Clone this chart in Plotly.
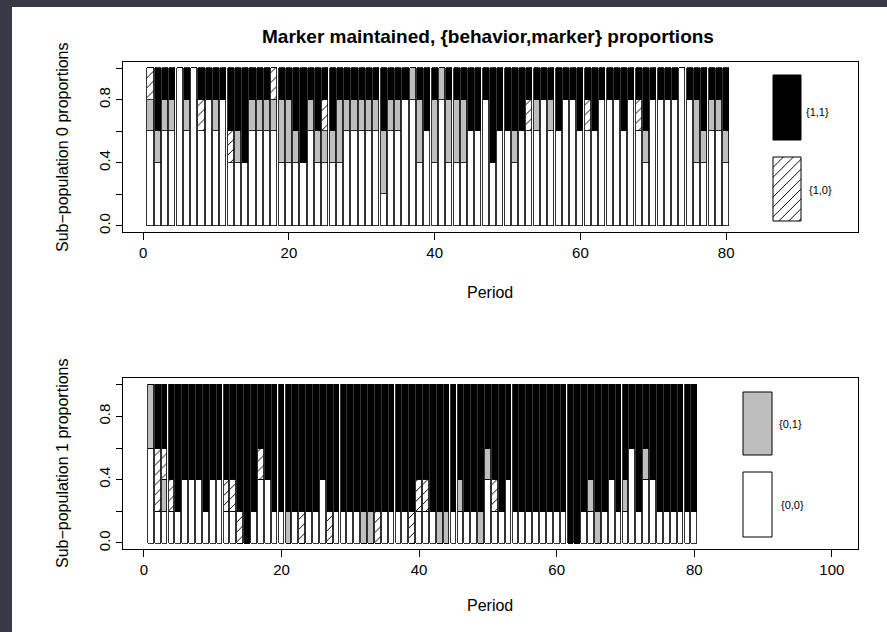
import plotly.graph_objects as go

W, H = 887, 632

periods = list(range(1, 81))

# Sub-population 0 : proportions of {0,0}, {0,1}, {1,0}, {1,1}
pop0_00 = [.6,.4,.6,.6,1,.6,1,.6,.8,.6, .8,.4,.4,.4,.6,.6,.6,.6,.4,.4,
           .4,.4,.6,.4,.4,.4,.4,.6,.6,.6, .6,.6,.2,.6,.6,.8,.8,.4,.6,.4,
           .8,.4,.4,.4,.6,.6,.8,.4,.6,.6, .4,.6,.6,.6,.8,.6,.6,.8,.8,.6,
           .6,.6,.8,.8,.8,.6,.8,.6,.4,.8, .8,.8,.8,1,.8,.4,.4,.6,.6,.4]
pop0_01 = [.2,.2,.2,.2,0,.2,0,0,0,.2, 0,0,.2,0,.2,.2,.2,.2,.4,.4,
           .2,0,.2,.2,.2,.2,.4,.2,.2,.2, .2,.2,.4,.2,.2,0,.2,.4,0,.4,
           .2,.4,.4,.4,0,0,0,0,0,0, .2,0,0,.2,0,.2,0,0,0,0,
           0,0,0,0,0,0,0,0,.2,0, 0,0,0,0,0,.4,.2,.2,.2,.2]
pop0_10 = [.2,0,0,0,0,0,0,.2,0,0, 0,.2,0,0,0,0,0,.2,0,0,
           0,0,0,0,.2,0,0,0,0,0, 0,0,0,0,0,0,0,0,0,0,
           0,0,0,0,0,0,0,0,0,0, 0,0,.2,0,0,0,0,0,0,0,
           .2,0,0,0,0,0,0,.2,0,0, 0,0,0,0,0,0,0,0,0,0]
pop0_11 = [0,.4,.2,.2,0,.2,0,.2,.2,.2, .2,.4,.4,.6,.2,.2,.2,0,.2,.2,
           .4,.6,.2,.4,.2,.4,.2,.2,.2,.2, .2,.2,.4,.2,.2,.2,0,.2,.4,.2,
           0,.2,.2,.2,.4,.4,.2,.6,.4,.4, .4,.4,.2,.2,.2,.2,.4,.2,.2,.4,
           .2,.4,.2,.2,.2,.4,.2,.2,.4,.2, .2,.2,.2,0,.2,.2,.4,.2,.2,.4]

# Sub-population 1
pop1_00 = [.6,.2,.2,.2,.2,.4,.4,.4,.2,.4, .4,.2,.2,0,0,.2,.4,.4,.2,.2,
           0,.2,0,.2,.2,.4,0,.2,.2,.2, .2,0,0,0,.2,.2,.2,.2,0,.2,
           .2,.2,0,0,.2,.2,.2,.2,0,.4, .2,.2,.4,.2,.2,.2,.2,.2,.2,.2,
           .2,0,0,.2,.2,0,.2,.4,.2,.2, .6,.2,.4,.4,.2,.2,.2,.2,.2,.2]
pop1_01 = [.4,0,.2,0,0,0,0,0,0,0, 0,0,0,0,0,0,0,0,0,0,
           .2,0,0,0,0,0,0,0,0,0, 0,.2,.2,0,0,0,0,0,0,0,
           0,0,.2,.2,0,.2,0,0,.2,.2, 0,0,0,0,0,0,0,0,0,0,
           0,0,0,0,.2,.2,0,0,0,.2, 0,0,.2,0,0,0,0,0,0,0]
pop1_10 = [0,.4,.2,.2,0,0,0,0,0,0, 0,.2,.2,.2,0,0,.2,0,0,0,
           0,0,.2,0,0,0,.2,0,0,0, 0,0,0,.2,0,0,0,0,.2,.2,
           .2,0,0,0,0,0,0,0,0,0, .2,0,0,0,0,0,0,0,0,0,
           0,0,0,0,0,0,0,0,0,0, 0,0,0,0,0,0,0,0,0,0]
pop1_11 = [0,.4,.4,.6,.8,.6,.6,.6,.8,.6, .6,.6,.6,.8,1,.8,.4,.6,.8,.8,
           .8,.8,.8,.8,.8,.6,.8,.8,.8,.8, .8,.8,.8,.8,.8,.8,.8,.8,.8,.6,
           .6,.8,.8,.8,.8,.6,.8,.8,.8,.4, .6,.8,.6,.8,.8,.8,.8,.8,.8,.8,
           .8,1,1,.8,.6,.8,.8,.6,.8,.6, .4,.8,.4,.6,.8,.8,.8,.8,.8,.8]

categories = ["{0,0}", "{0,1}", "{1,0}", "{1,1}"]
x_ticks_top = [0, 20, 40, 60, 80]
x_ticks_bottom = [0, 20, 40, 60, 80, 100]
y_ticks = [0.0, 0.2, 0.4, 0.6, 0.8, 1.0]
y_ticktext = ["0.0", "", "0.4", "", "0.8", ""]

GREY = "#bebebe"
DARK = "#383846"
hatch = dict(shape="/", fgcolor="black", bgcolor="white", size=7, solidity=0.14)
styles = {
    "{0,0}": dict(color="white"),
    "{0,1}": dict(color=GREY),
    "{1,0}": dict(color="white", pattern=hatch),
    "{1,1}": dict(color="black"),
}

fig = go.Figure()
panels = [("x", "y", [pop0_00, pop0_01, pop0_10, pop0_11]),
          ("x2", "y2", [pop1_00, pop1_01, pop1_10, pop1_11])]
for xa, ya, series in panels:
    for cat, vals in zip(categories, series):
        fig.add_trace(go.Bar(
            x=periods, y=vals, name=cat, width=0.833,
            marker=dict(**styles[cat], line=dict(color="black", width=0.8)),
            xaxis=xa, yaxis=ya, showlegend=False, hoverinfo="skip"))

# legend swatches, drawn in a pixel-coordinate overlay (x3/y3)
legend_boxes = [
    ("{1,1}", 773, 801, 75, 140, 804, 112),
    ("{1,0}", 773, 801, 157, 221, 807, 190),
    ("{0,1}", 743, 772, 392, 455, 777, 424),
    ("{0,0}", 743, 772, 472, 537, 779, 505),
]
annotations = []
for cat, x0, x1, y0, y1, lx, ly in legend_boxes:
    st = styles[cat]
    kw = dict(fillcolor=st["color"])
    if "pattern" in st:
        kw["fillpattern"] = dict(shape="/", fgcolor="black", bgcolor="white", size=7, solidity=0.14)
    fig.add_trace(go.Scatter(
        x=[x0, x1, x1, x0, x0], y=[y0, y0, y1, y1, y0], mode="lines",
        fill="toself", line=dict(color="black", width=1), xaxis="x3", yaxis="y3",
        showlegend=False, hoverinfo="skip", **kw))
    annotations.append(dict(text=cat, x=lx / W, y=1 - ly / H, xref="paper", yref="paper",
                            xanchor="left", yanchor="middle", showarrow=False,
                            font=dict(size=11, color="black")))


def centered(text, px, py, size, angle=0):
    return dict(text=text, x=px / W, y=1 - py / H, xref="paper", yref="paper",
                xanchor="center", yanchor="middle", showarrow=False, textangle=angle,
                font=dict(size=size, color="black"))


FONT = "Liberation Sans, Arial, Helvetica, sans-serif"
annotations += [
    centered("<b>Marker maintained, {behavior,marker} proportions</b>", 488, 37, 19),
    centered("Sub\u2212population 0 proportions", 62, 147, 16, -90),
    centered("Sub\u2212population 1 proportions", 62, 463, 16, -90),
    centered("Period", 490, 292, 16),
    centered("Period", 490, 605, 16),
]

axis_common = dict(showline=True, mirror=True, linecolor="black", linewidth=1, showgrid=False,
                   zeroline=False, ticks="outside", tickcolor="black", tickwidth=1,
                   automargin=False, tickfont=dict(size=15, color="black"), fixedrange=True)

fig.update_layout(
    width=W, height=H, margin=dict(l=0, r=0, t=0, b=0),
    template="none", barmode="stack", bargap=0,
    paper_bgcolor="white", plot_bgcolor="rgba(0,0,0,0)",
    font=dict(family=FONT, color="black"),
    xaxis=dict(domain=[123 / W, 858 / W], range=[-2.77, 98.09], tickvals=x_ticks_top,
               ticklen=7, anchor="y", **axis_common),
    yaxis=dict(domain=[1 - 232 / H, 1 - 62 / H], range=[-0.04, 1.04], tickvals=y_ticks,
               ticktext=y_ticktext, tickangle=-90, ticklen=6, anchor="x", **axis_common),
    xaxis2=dict(domain=[123 / W, 858 / W], range=[-3.04, 103.8], tickvals=x_ticks_bottom,
                ticklen=7, anchor="y2", **axis_common),
    yaxis2=dict(domain=[1 - 549.3 / H, 1 - 378.4 / H], range=[-0.04, 1.04], tickvals=y_ticks,
                ticktext=y_ticktext, tickangle=-90, ticklen=6, anchor="x2", **axis_common),
    xaxis3=dict(domain=[0, 1], range=[0, W], visible=False, anchor="y3", fixedrange=True),
    yaxis3=dict(domain=[0, 1], range=[H, 0], visible=False, anchor="x3", fixedrange=True),
    annotations=annotations,
    shapes=[
        dict(type="rect", xref="paper", yref="paper", x0=-0.01, x1=12 / W, y0=-0.01, y1=1.01,
             fillcolor=DARK, line=dict(width=0), layer="below"),
        dict(type="rect", xref="paper", yref="paper", x0=-0.01, x1=1.01, y0=1 - 7 / H, y1=1.01,
             fillcolor=DARK, line=dict(width=0), layer="below"),
    ],
)

fig.write_html("out.html")
